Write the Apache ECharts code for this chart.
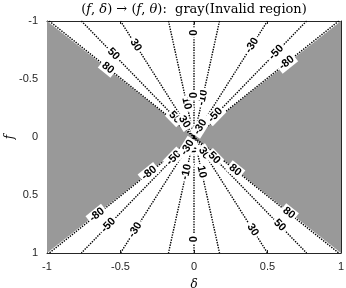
<!DOCTYPE html>
<html><head><meta charset="utf-8">
<script src="https://cdn.jsdelivr.net/npm/echarts@6/dist/echarts.min.js"></script>
<style>html,body{margin:0;padding:0;background:#fff}#c{width:346px;height:288px}</style>
</head><body><div id="c"></div>
<script>
// contour levels of theta (degrees)
const levels = [-80, -50, -30, -10, 0, 10, 30, 50, 80];
// axis ticks
const xTicks = [-1, -0.5, 0, 0.5, 1];
const yTicks = [-1, -0.5, 0, 0.5, 1];
// inline contour labels: level and f where the label sits
const labelLevels = [80, 50, 30, 0, -30, -50, -80, 50, 30, 10, -10, -50, -30, 0,
                     -80, -50, -30, 0, 30, 50, 80, -80, -50, 0, 30, 50, 80, -10, 10, -30];
const labelF = [-0.595, -0.716, -0.793, -0.90, -0.79, -0.73, -0.64, -0.17, -0.13, -0.29, -0.34, -0.19, -0.086, -0.36,
                0.67, 0.76, 0.80, 0.88, 0.80, 0.76, 0.655, 0.31, 0.18, 0.11, 0.14, 0.18, 0.285, 0.30, 0.30, 0.09];
// invalid (gray) regions: |delta| > |f|
const invalidLeft = [[-1, -1], [0, 0], [-1, 1]];
const invalidRight = [[1, -1], [0, 0], [1, 1]];

function deltaOf(f, th) { return f * Math.sin(th * Math.PI / 180); }

const chart = echarts.init(document.getElementById('c'), null, {renderer: 'canvas'});
const regions = [invalidLeft, invalidRight];

const series = [];
series.push({
  type: 'custom', xAxisIndex: 0, yAxisIndex: 0, silent: true, z: 1,
  data: regions.map((r, i) => [i]),
  renderItem: function (params, api) {
    const reg = regions[api.value(0)];
    return {type: 'polygon', shape: {points: reg.map(p => api.coord(p))},
            style: {fill: '#999999', stroke: null}};
  }
});
levels.forEach(lv => {
  series.push({
    type: 'line', xAxisIndex: 0, yAxisIndex: 0, silent: true, symbol: 'none', z: 2,
    data: [[deltaOf(-1, lv), -1], [0, 0], [deltaOf(1, lv), 1]],
    lineStyle: {color: '#000', width: 1.4, type: [1.4, 1.2]}
  });
});
series.push({
  type: 'custom', xAxisIndex: 0, yAxisIndex: 0, silent: true, z: 5,
  data: labelLevels.map((lv, i) => [deltaOf(labelF[i], lv), labelF[i], lv]),
  renderItem: function (params, api) {
    const p = api.coord([api.value(0), api.value(1)]);
    const o = api.coord([0, 0]);
    let a = Math.atan2(p[1] - o[1], p[0] - o[0]) * 180 / Math.PI;
    while (a >= 90) a -= 180;
    while (a < -90) a += 180;
    return {
      type: 'text', x: p[0], y: p[1], rotation: -a * Math.PI / 180,
      style: {text: String(api.value(2)), x: 0, y: 0, align: 'center', verticalAlign: 'middle',
              fill: '#000', fontSize: 11, fontWeight: 'bold', fontFamily: 'Liberation Sans',
              backgroundColor: '#fff', padding: [1, 2, 0, 2]}
    };
  }
});

const axisCol = '#262626';
const option = {
  animation: false,
  backgroundColor: '#fff',
  grid: {left: 47, right: 5, top: 21, bottom: 35, show: false, outerBoundsMode: 'none', containLabel: false},
  graphic: [{
    type: 'text', x: 194, y: 10, z: 10,
    style: {
      text: '{p|(}{i|f}{p|, }{i|δ}{p|) → (}{i|f}{p|, }{i|θ}{p|):  gray(Invalid region)}',
      align: 'center', verticalAlign: 'middle',
      rich: {
        p: {fontFamily: 'DejaVu Serif', fontSize: 13, fill: '#000'},
        i: {fontFamily: 'DejaVu Serif', fontSize: 13, fontStyle: 'italic', fill: '#000'}
      }
    }
  }],
  xAxis: [{
    type: 'value', min: -1, max: 1, interval: 0.5, position: 'bottom',
    name: 'δ', nameLocation: 'middle', nameGap: 26, nameMoveOverlap: false,
    nameTextStyle: {fontFamily: 'DejaVu Serif', fontStyle: 'italic', fontSize: 12, color: '#000'},
    axisLine: {show: true, onZero: false, lineStyle: {color: axisCol, width: 1}},
    axisTick: {show: true, inside: true, length: 3, lineStyle: {color: axisCol}},
    axisLabel: {fontFamily: 'Liberation Sans', fontSize: 11, color: axisCol, margin: 8,
                formatter: v => xTicks.includes(v) ? String(v) : ''},
    splitLine: {show: false}
  }, {
    type: 'value', min: -1, max: 1, interval: 0.5, position: 'top',
    axisLine: {show: true, onZero: false, lineStyle: {color: axisCol, width: 1}},
    axisTick: {show: true, inside: true, length: 3, lineStyle: {color: axisCol}},
    axisLabel: {show: false}, splitLine: {show: false}
  }],
  yAxis: [{
    type: 'value', min: -1, max: 1, interval: 0.5, inverse: true, position: 'left',
    name: 'f', nameLocation: 'middle', nameGap: 31, nameRotate: 90, nameMoveOverlap: false,
    nameTextStyle: {fontFamily: 'DejaVu Serif', fontStyle: 'italic', fontSize: 12, color: '#000'},
    axisLine: {show: true, onZero: false, lineStyle: {color: axisCol, width: 1}},
    axisTick: {show: true, inside: true, length: 3, lineStyle: {color: axisCol}},
    axisLabel: {fontFamily: 'Liberation Sans', fontSize: 11, color: axisCol, margin: 9,
                formatter: v => yTicks.includes(v) ? String(v) : ''},
    splitLine: {show: false}
  }, {
    type: 'value', min: -1, max: 1, interval: 0.5, inverse: true, position: 'right',
    axisLine: {show: true, onZero: false, lineStyle: {color: axisCol, width: 1}},
    axisTick: {show: true, inside: true, length: 3, lineStyle: {color: axisCol}},
    axisLabel: {show: false}, splitLine: {show: false}
  }],
  series: series
};
chart.setOption(option);
</script>
</body></html>
